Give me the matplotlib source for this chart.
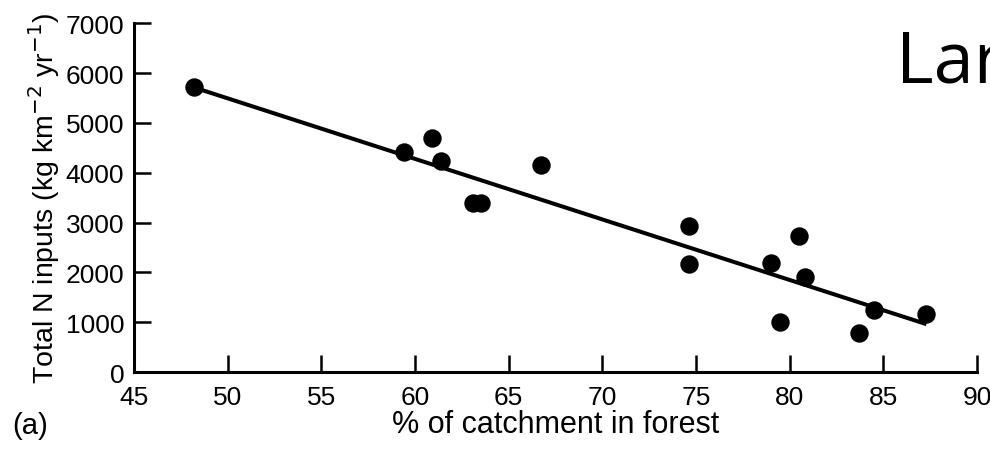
import numpy as np
import matplotlib.pyplot as plt

# % of catchment in forest vs total N inputs (kg km-2 yr-1)
forest_pct = [48.2, 59.4, 60.9, 61.4, 63.1, 63.5, 66.7, 74.6, 74.6,
              79.0, 79.5, 80.5, 80.8, 83.7, 84.5, 87.3]
n_inputs = [5710, 4410, 4690, 4230, 3390, 3390, 4150, 2930, 2160,
            2180, 1000, 2720, 1900, 780, 1240, 1160]

# regression line end points
fit_x = [48.2, 87.3]
fit_y = [5710, 960]

x_ticks = [45, 50, 55, 60, 65, 70, 75, 80, 85, 90]
y_ticks = [0, 1000, 2000, 3000, 4000, 5000, 6000, 7000]

plt.rcParams['font.family'] = ['Liberation Sans', 'DejaVu Sans']

fig = plt.figure(figsize=(9.9, 4.56), dpi=100)
ax = fig.add_axes([0.1354, 0.182, 0.8515, 0.765])

ax.plot(fit_x, fit_y, color='black', linewidth=2.9, solid_capstyle='butt')
ax.scatter(forest_pct, n_inputs, s=150, color='black', zorder=3, clip_on=False)

ax.set_xlim(45, 90)
ax.set_ylim(0, 7000)
ax.set_xticks(x_ticks)
ax.set_yticks(y_ticks)

for side in ['top', 'right']:
    ax.spines[side].set_visible(False)
for side in ['left', 'bottom']:
    ax.spines[side].set_linewidth(2.2)

ax.tick_params(axis='both', direction='in', length=12, width=1.8,
               labelsize=19)
ax.tick_params(axis='x', pad=9)
ax.tick_params(axis='y', pad=7)

ax.set_xlabel('% of catchment in forest', fontsize=22, labelpad=0)
ax.set_ylabel('Total N inputs (kg km$^{-2}$ yr$^{-1}$)', fontsize=20.5, labelpad=3)

fig.text(0.012, 0.035, '(a)', fontsize=21, ha='left', va='bottom')
fig.text(0.905, 0.782, 'Lar', fontsize=52, family=['Open Sans', 'DejaVu Sans'],
         ha='left', va='bottom')

fig.savefig('out.png', dpi=100)
